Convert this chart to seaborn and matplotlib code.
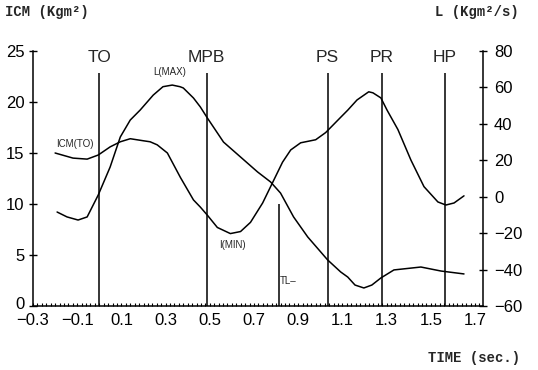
import numpy as np
import pandas as pd
import matplotlib
matplotlib.use("Agg")
import matplotlib.pyplot as plt
from matplotlib.ticker import MultipleLocator
from matplotlib.transforms import ScaledTranslation
import seaborn as sns

# ICM curve (left axis, Kgm^2)
icm_t = [-0.200, -0.119, -0.055, -0.005, 0.049, 0.095, 0.140, 0.199, 0.230, 0.262, 0.308,
         0.367, 0.426, 0.457, 0.489, 0.534, 0.593, 0.639, 0.684, 0.739, 0.784,
         0.829, 0.866, 0.911, 0.979, 1.024, 1.092, 1.124, 1.166, 1.219, 1.238, 1.274,
         1.302, 1.351, 1.410, 1.469, 1.532, 1.568, 1.605, 1.650]
icm_v = [15.0, 14.5, 14.4, 14.8, 15.6, 16.1, 16.4, 16.2, 16.1, 15.8, 15.0,
         12.6, 10.4, 9.7, 8.9, 7.7, 7.1, 7.3, 8.2, 10.1, 12.1,
         14.1, 15.3, 16.0, 16.3, 17.0, 18.5, 19.2, 20.2, 21.0, 20.9, 20.4,
         19.2, 17.3, 14.3, 11.7, 10.2, 9.9, 10.1, 10.8]

# angular momentum L (right axis, Kgm^2/s)
l_t = [-0.191, -0.146, -0.096, -0.055, -0.005, 0.049, 0.095, 0.140, 0.185, 0.244,
       0.288, 0.330, 0.365, 0.380, 0.426, 0.457, 0.489, 0.562, 0.639, 0.716, 0.775,
       0.820, 0.879, 0.943, 1.033, 1.092, 1.124, 1.157, 1.197, 1.233, 1.274, 1.333,
       1.455, 1.546, 1.650]
l_v = [-8.4, -11.1, -12.8, -11.1, 0.9, 16.3, 32.8, 42.1, 47.6, 55.8,
       60.4, 61.3, 60.4, 59.7, 54.2, 49.3, 43.2, 30.0, 21.8, 13.6, 8.1,
       2.0, -11.1, -22.1, -34.7, -41.3, -44.1, -48.5, -50.1, -48.5, -44.6, -40.2,
       -38.6, -40.8, -42.4]

# event markers
events = ["TO", "MPB", "PS", "PR", "HP"]
event_t = [0.0, 0.485, 1.033, 1.278, 1.562]
tl_t = 0.811

x_ticks = [-0.3, -0.1, 0.1, 0.3, 0.5, 0.7, 0.9, 1.1, 1.3, 1.5, 1.7]

df_icm = pd.DataFrame({"time": icm_t, "icm": icm_v})
df_l = pd.DataFrame({"time": l_t, "L": l_v})

sns.set_theme(style="ticks")
plt.rcParams["font.family"] = ["Liberation Sans", "DejaVu Sans"]
plt.rcParams["axes.unicode_minus"] = True

fig = plt.figure(figsize=(5.38, 3.70), dpi=100)
ax = fig.add_axes([33/538, 1-306/370, (483-33)/538, (306-51)/370])
ax2 = ax.twinx()

sns.lineplot(data=df_icm, x="time", y="icm", ax=ax, color="black", lw=1.1)
sns.lineplot(data=df_l, x="time", y="L", ax=ax2, color="black", lw=1.1)

for name, t in zip(events, event_t):
    ax.vlines(t, 0, 22.8, color="black", lw=1.1)
    ax.text(t, 24.4, name, ha="center", va="center", fontsize=12.5)
ax.vlines(tl_t, 0, 10.0, color="black", lw=1.1)

ax.text(0.32, 22.9, "L(MAX)", ha="center", va="center", fontsize=7)
ax.text(-0.109, 15.9, "ICM(TO)", ha="center", va="center", fontsize=7)
ax.text(0.602, 6.0, "I(MIN)", ha="center", va="center", fontsize=7)
ax.text(0.856, 2.45, "TL\u2013", ha="center", va="center", fontsize=7)

ax.set_xlim(-0.3, 1.736)
ax.set_ylim(0, 25)
ax2.set_ylim(-60, 80)
ax.set_xticks(x_ticks)
ax.set_xticklabels([f"{v:.1f}".replace("-", "\u2212") for v in x_ticks])
ax.xaxis.set_minor_locator(MultipleLocator(0.02))
ax.set_yticks([0, 5, 10, 15, 20, 25])
ax2.set_yticks([-60, -40, -20, 0, 20, 40, 60, 80])
ax.set_xlabel("")
ax.set_ylabel("")
ax2.set_ylabel("")

for a in (ax, ax2):
    a.spines["top"].set_visible(False)
    for s in a.spines.values():
        s.set_linewidth(1.1)
        s.set_color("black")
ax.spines["right"].set_visible(False)
ax2.spines["left"].set_visible(False)
ax2.spines["bottom"].set_visible(False)

ax.tick_params(axis="x", which="both", direction="in", length=2.5, width=0.8,
               labelsize=12, pad=5, colors="black")
ax.tick_params(axis="y", direction="inout", length=6, width=1.0,
               labelsize=12, pad=3, colors="black")
ax2.tick_params(axis="y", direction="inout", length=6, width=1.0,
                labelsize=12, pad=5, colors="black")

# nudge the "0" label up a touch so it clears the -0.3 label
zero_lbl = ax.get_yticklabels()[0]
zero_lbl.set_transform(zero_lbl.get_transform() + ScaledTranslation(0, 2/72, fig.dpi_scale_trans))

mono = ["Liberation Mono", "DejaVu Sans Mono"]
fig.text(5/538, 1-12/370, "ICM (Kgm\u00b2)", family=mono, weight="bold",
         fontsize=10, ha="left", va="center")
fig.text(519/538, 1-12/370, "L (Kgm\u00b2/s)", family=mono, weight="bold",
         fontsize=10, ha="right", va="center")
fig.text(520/538, 1-358/370, "TIME (sec.)", family=mono, weight="bold",
         fontsize=10, ha="right", va="center")

fig.savefig("out.png", dpi=100, facecolor="white")
